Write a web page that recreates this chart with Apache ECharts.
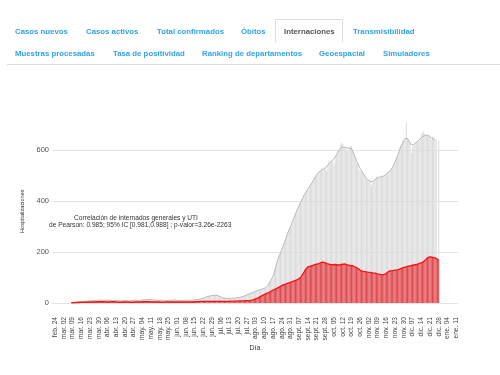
<!DOCTYPE html>
<html>
<head>
<meta charset="utf-8">
<script src="https://cdn.jsdelivr.net/npm/echarts@6/dist/echarts.min.js"></script>
<style>
  html, body { margin: 0; padding: 0; background: #fff; }
  #chart { width: 500px; height: 375px; }
</style>
</head>
<body>
<div id="chart"></div>
<script>
// internados generales (barras grises), desde 2020-03-08
const inicioDatos = '2020-03-08'
const internados = [
  1,2,2,3,4,4,4,5,6,6,6,7,8,8,8,9,9,10,9,10,11,10,11,12,
  11,12,10,10,11,12,11,10,11,9,9,10,12,10,9,9,8,9,10,11,9,9,8,8,9,10,11,11,12,10,
  10,10,11,12,13,13,14,14,15,13,13,12,12,11,11,10,10,11,12,10,10,9,9,10,10,11,12,12,13,11,11,
  10,10,9,9,10,10,11,11,10,10,11,12,12,12,13,14,14,15,15,16,18,19,21,23,25,27,28,29,30,31,
  32,31,30,28,26,24,22,20,19,18,18,17,17,18,18,19,19,20,21,21,22,23,25,27,28,30,32,34,36,38,40,
  42,44,46,48,50,52,53,55,56,58,60,62,70,78,87,96,105,120,138,158,172,185,198,210,222,236,250,263,276,289,300,
  312,325,338,350,361,372,383,394,404,414,424,432,440,448,455,462,470,478,486,494,502,510,514,518,528,524,527,530,520,541,
  560,552,557,562,545,573,580,590,600,620,627,624,612,610,598,594,607,615,616,595,583,570,548,546,522,520,519,511,503,495,489,
  484,480,477,460,476,480,485,497,492,493,494,500,496,498,502,506,510,514,518,524,532,543,555,566,578,592,612,618,633,637,
  645,709,645,637,628,587,612,622,626,630,634,638,643,662,667,675,662,658,658,659,652,640,652,651,640,639,null,636
]
// promedio movil de internados (linea gris)
const internadosMedia = [
  1,2,2,3,3,4,4,5,5,6,6,7,7,8,8,8,9,9,9,10,10,10,11,11,
  11,11,10,10,11,12,11,10,10,9,9,10,11,10,9,9,8,9,10,10,9,9,8,8,9,10,10,11,11,10,
  10,10,11,12,12,13,13,14,14,13,13,12,12,11,11,10,10,11,11,10,10,9,9,10,10,11,11,12,12,11,11,
  10,10,9,9,10,10,11,11,10,10,11,11,12,12,13,13,14,14,15,16,17,19,21,23,25,26,27,28,29,30,
  31,31,30,28,26,24,22,20,19,18,18,17,17,18,18,19,19,20,20,21,22,23,25,26,28,30,32,34,36,38,40,
  42,44,46,48,50,51,53,55,56,58,60,62,70,78,87,96,105,120,138,158,172,185,198,210,222,236,250,263,276,289,300,
  312,325,338,350,361,372,383,394,404,414,424,432,440,448,455,462,470,478,486,494,502,510,514,518,521,524,527,530,536,541,
  546,552,557,562,567,573,580,590,600,606,610,612,612,610,608,606,607,609,606,595,583,570,558,546,536,527,519,511,503,495,489,
  484,480,477,475,476,480,485,489,492,493,494,495,496,498,502,506,510,514,518,524,532,543,555,566,578,592,606,618,628,637,
  645,648,645,637,628,620,620,622,626,630,634,638,643,648,652,655,657,658,658,656,652,648,644,641,640
]
// internados en UTI (barras y linea rojas)
const internadosUTI = [
  1,1,1,2,2,2,2,3,3,3,3,3,3,4,4,4,4,4,4,4,4,5,5,5,
  5,5,5,4,4,4,4,4,5,5,5,4,4,4,3,3,3,3,4,4,4,4,4,3,3,3,3,4,4,4,
  4,4,4,4,5,5,5,5,5,4,4,4,4,4,4,4,4,3,3,3,3,3,4,4,4,4,4,4,4,4,4,
  4,4,4,4,4,4,4,4,4,4,4,4,4,4,5,5,5,5,5,6,6,6,6,6,6,6,6,6,6,6,
  6,6,6,6,6,6,6,6,6,6,6,6,7,7,7,7,7,7,7,8,8,8,8,8,9,9,9,9,10,10,11,
  12,14,16,18,20,23,26,29,31,33,36,38,40,43,45,48,51,53,55,58,60,63,65,68,71,72,74,76,78,80,81,
  83,85,87,89,91,93,96,100,106,114,122,131,138,142,144,145,147,148,149,151,152,153,156,158,160,160,159,157,155,153,
  152,151,150,150,150,151,150,149,149,150,151,152,153,153,151,149,148,147,147,146,144,141,139,136,132,128,125,124,123,123,122,
  121,121,120,119,118,118,117,116,114,113,112,111,110,111,113,117,121,125,126,127,127,128,129,130,130,132,134,136,138,140,
  141,142,144,145,146,147,148,149,150,151,152,154,156,157,159,163,168,173,178,180,181,180,179,178,177,175,172,166
]
// etiquetas semanales del eje x (lunes)
const etiquetas = [
  'feb. 24','mar. 02','mar. 09','mar. 16','mar. 23','mar. 30','abr. 06','abr. 13','abr. 20','abr. 27',
  'may. 04','may. 11','may. 18','may. 25','jun. 01','jun. 08','jun. 15','jun. 22','jun. 29','jul. 06',
  'jul. 13','jul. 20','jul. 27','ago. 03','ago. 10','ago. 17','ago. 24','ago. 31','sept. 07','sept. 14',
  'sept. 21','sept. 28','oct. 05','oct. 12','oct. 19','oct. 26','nov. 02','nov. 09','nov. 16','nov. 23',
  'nov. 30','dic. 07','dic. 14','dic. 21','dic. 28','ene. 04','ene. 11'
]
const yTicks = [0, 200, 400, 600]

const tabsFila1 = ['Casos nuevos', 'Casos activos', 'Total confirmados', 'Óbitos', 'Internaciones', 'Transmisibilidad']
const tabsFila2 = ['Muestras procesadas', 'Tasa de positividad', 'Ranking de departamentos', 'Geoespacial', 'Simuladores']

// dias del eje (categorias), del 22 feb 2020 al 12 ene 2021
const dias = []
const d0 = Date.UTC(2020, 1, 22)
for (let k = 0; k < 326; k++) {
  dias.push(new Date(d0 + k * 86400000).toISOString().slice(0, 10))
}
const primerLunes = dias.indexOf('2020-02-24')
const offset = dias.indexOf(inicioDatos)
const pad = new Array(offset).fill(null)

const fila1X = [15, 86, 157, 241, 284, 353]
const fila2X = [15, 113, 202, 319, 383]
const tabFont = 'bold 7.8px "Liberation Sans", Arial, sans-serif'

const graphic = []
tabsFila1.forEach((t, i) => {
  graphic.push({ type: 'text', left: fila1X[i], top: 27.5, style: {
    text: t, font: tabFont, fill: t === 'Internaciones' ? '#555' : '#2fa4e7' } })
})
tabsFila2.forEach((t, i) => {
  graphic.push({ type: 'text', left: fila2X[i], top: 49.5, style: {
    text: t, font: tabFont, fill: '#2fa4e7' } })
})
graphic.push({ type: 'polyline', shape: { points: [[275.5, 42], [275.5, 19.5], [342.5, 19.5], [342.5, 42]] },
  style: { stroke: '#ddd', fill: null, lineWidth: 1 } })
graphic.push({ type: 'line', shape: { x1: 7, y1: 64.5, x2: 500, y2: 64.5 }, style: { stroke: '#ddd', lineWidth: 1 } })
graphic.push({ type: 'text', x: 136, y: 214.5, style: {
  text: 'Correlación de internados generales y UTI', font: '6.6px "Liberation Sans", Arial, sans-serif',
  fill: '#333', textAlign: 'center' } })
graphic.push({ type: 'text', x: 49, y: 222, style: {
  text: 'de Pearson: 0.985; 95% IC [0.981,0.988] ; p-valor=3.26e-2263', font: '6.6px "Liberation Sans", Arial, sans-serif',
  fill: '#333', textAlign: 'left' } })

const myChart = echarts.init(document.getElementById('chart'))
myChart.setOption({
  animation: false,
  grid: { left: 52, right: 42, top: 119.4, bottom: 72 },
  xAxis: {
    type: 'category',
    data: dias,
    name: 'Día',
    nameLocation: 'middle',
    nameGap: 38,
    nameTextStyle: { fontSize: 7, color: '#333', fontFamily: 'Liberation Sans' },
    axisLine: { lineStyle: { color: '#e3e3e3' } },
    axisTick: { show: false },
    axisLabel: {
      interval: (idx) => idx >= primerLunes && (idx - primerLunes) % 7 === 0,
      formatter: (val, idx) => {
        const k = idx - primerLunes
        return (k >= 0 && k % 7 === 0) ? (etiquetas[k / 7] || '') : ''
      },
      rotate: 90,
      margin: 14,
      fontSize: 6.6,
      color: '#444',
      fontFamily: 'Liberation Sans'
    }
  },
  yAxis: {
    type: 'value',
    min: yTicks[0],
    max: 720,
    interval: 200,
    name: 'Hospitalizaciones',
    nameLocation: 'middle',
    nameRotate: 90,
    nameGap: 23,
    nameTextStyle: { fontSize: 5.6, color: '#333', fontFamily: 'Liberation Sans' },
    axisLine: { show: false },
    axisTick: { show: false },
    splitLine: { showMaxLine: false, lineStyle: { color: '#e3e3e3' } },
    axisLabel: { showMaxLabel: false, margin: 3, fontSize: 7.5, color: '#555', fontFamily: 'Liberation Sans' }
  },
  graphic: graphic,
  series: [
    {
      type: 'bar',
      data: pad.concat(internados),
      itemStyle: { color: '#dcdcdc' },
      barGap: '-100%',
      barCategoryGap: '15%'
    },
    {
      type: 'bar',
      data: pad.concat(internadosUTI),
      itemStyle: { color: '#e4474c' },
      barGap: '-100%',
      barCategoryGap: '15%'
    },
    {
      type: 'line',
      data: pad.concat(internadosMedia),
      showSymbol: false,
      lineStyle: { color: '#b9b9b9', width: 1 }
    },
    {
      type: 'line',
      data: pad.concat(internadosUTI),
      showSymbol: false,
      lineStyle: { color: '#ff1010', width: 1.3 }
    }
  ]
})
</script>
</body>
</html>
